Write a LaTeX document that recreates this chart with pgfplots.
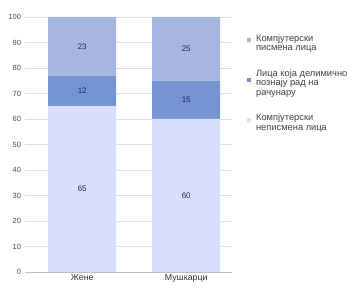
\documentclass[border=0pt]{standalone}
\usepackage{fontspec}
\setmainfont{Liberation Sans}
\usepackage{pgfplots}
\pgfplotsset{compat=1.18}
\definecolor{cBot}{RGB}{218,222,250}
\definecolor{cMid}{RGB}{118,148,210}
\definecolor{cTop}{RGB}{166,182,224}
\definecolor{cLab}{RGB}{30,40,90}
\begin{document}
\begin{tikzpicture}
\begin{axis}[
  name=ax,
  scale only axis,
  width=207pt, height=255pt,
  ybar stacked,
  bar width=68pt,
  xmin=-0.55, xmax=1.44,
  ymin=0, ymax=100,
  ytick={0,10,...,100},
  xtick={0,1},
  xticklabels={Жене,Мушкарци},
  /pgf/number format/assume math mode=true,
  ticklabel style={font=\fontsize{7.5}{8}\selectfont, text=black!70},
  xticklabel style={font=\fontsize{8.8}{9}\selectfont, text=black!80, yshift=1.5pt},
  yticklabel style={xshift=-0.5pt},
  axis lines*=left,
  y axis line style={draw=none},
  x axis line style={draw=gray!50},
  tick style={draw=none},
  ymajorgrids,
  major grid style={draw=gray!25, line width=0.6pt},
  enlarge x limits=false,
  reverse legend,
  legend style={at={(1.072,0.94)}, anchor=north west, draw=none, fill=none,
    font=\fontsize{9.3}{9.6}\selectfont, cells={align=left, anchor=west},
    row sep=13pt, text=black!75, inner sep=0pt},
  legend image code/.code={\path (0pt,0pt) -- (7pt,0pt);\fill[#1] (0pt,1pt) rectangle (4pt,5pt);},
  nodes near coords,
  point meta=explicit,
  every node near coord/.style={anchor=center, font=\fontsize{8}{8}\selectfont, text=cLab},
]
\addplot[fill=cBot, draw=none] table[x=x, y=h, meta=h] {
x h
0 65
1 60
};
\addplot[fill=cMid, draw=none] table[x=x, y=h, meta=h] {
x h
0 12
1 15
};
\addplot[fill=cTop, draw=none] table[x=x, y=h, meta=h] {
x h
0 23
1 25
};
\legend{Компјутерски\\неписмена лица, Лица која делимично\\познају рад на\\рачунару, Компјутерски\\писмена лица}
\end{axis}
\pgfresetboundingbox
\path[use as bounding box] ([shift={(-25pt,-16pt)}]ax.south west) rectangle ([shift={(126pt,17pt)}]ax.north east);
\end{tikzpicture}
\end{document}
